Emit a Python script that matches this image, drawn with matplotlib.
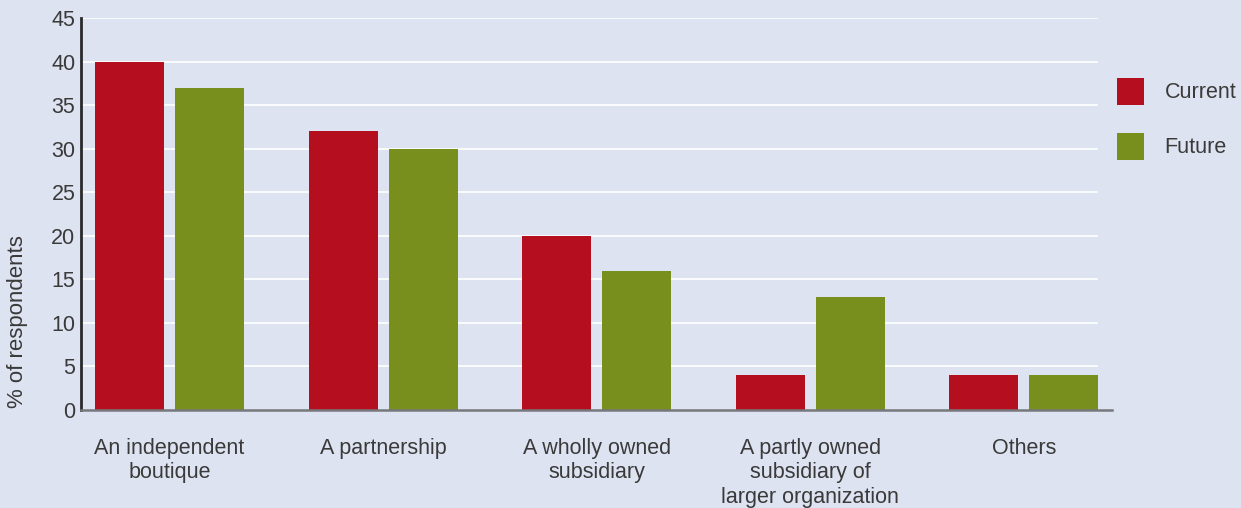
import matplotlib
matplotlib.use("Agg")
import matplotlib.pyplot as plt
import numpy as np

categories = [
    "An independent\nboutique",
    "A partnership",
    "A wholly owned\nsubsidiary",
    "A partly owned\nsubsidiary of\nlarger organization",
    "Others",
]
current = [40, 32, 20, 4, 4]
future = [37, 30, 16, 13, 4]
series_names = ["Current", "Future"]
yticks = [0, 5, 10, 15, 20, 25, 30, 35, 40, 45]

bg = "#dee3f1"
red = "#b50e1e"
green = "#788f1e"
text_color = "#3a3a3a"
fs = 15.5

plt.rcParams["font.family"] = ["Liberation Sans", "DejaVu Sans"]

fig = plt.figure(figsize=(12.41, 5.08), dpi=100, facecolor=bg)
ax = fig.add_axes([81 / 1241, 1 - 410 / 508, (1112 - 81) / 1241, (410 - 18) / 508])
ax.set_facecolor(bg)

x = np.arange(len(categories))
width = 0.323
offset = 0.1873

for t in yticks[1:]:
    ax.axhline(t, xmin=0, xmax=0.985, color="white", lw=1.2, zorder=0)

b1 = ax.bar(x - offset, current, width, color=red, label=series_names[0], zorder=2)
b2 = ax.bar(x + offset, future, width, color=green, label=series_names[1], zorder=2)

ax.set_xlim(-0.414, 4.412)
ax.set_ylim(0, 45)
ax.set_yticks(yticks)
ax.set_xticks(x)
ax.set_xticklabels(categories, fontsize=fs, color=text_color, linespacing=1.22)
ax.tick_params(axis="x", length=0, pad=20)
ax.tick_params(axis="y", length=0, pad=4, labelsize=fs, labelcolor=text_color)

for s in ["top", "right"]:
    ax.spines[s].set_visible(False)
ax.spines["left"].set_color("#2a2a2a")
ax.spines["left"].set_linewidth(2)
ax.spines["bottom"].set_color("#77787c")
ax.spines["bottom"].set_linewidth(1.8)

ax.set_ylabel("% of respondents", fontsize=16, color=text_color)
ax.yaxis.set_label_coords(-0.0515, 0.225)

fig.legend(
    handles=[b1, b2],
    labels=series_names,
    loc="upper left",
    bbox_to_anchor=(1117 / 1241, 1 - 78 / 508),
    frameon=False,
    fontsize=fs,
    handlelength=1.256,
    handleheight=1.54,
    handletextpad=0.95,
    labelspacing=1.3,
    borderpad=0,
    borderaxespad=0,
    labelcolor=text_color,
)

fig.savefig("out.png", dpi=100, facecolor=bg)
